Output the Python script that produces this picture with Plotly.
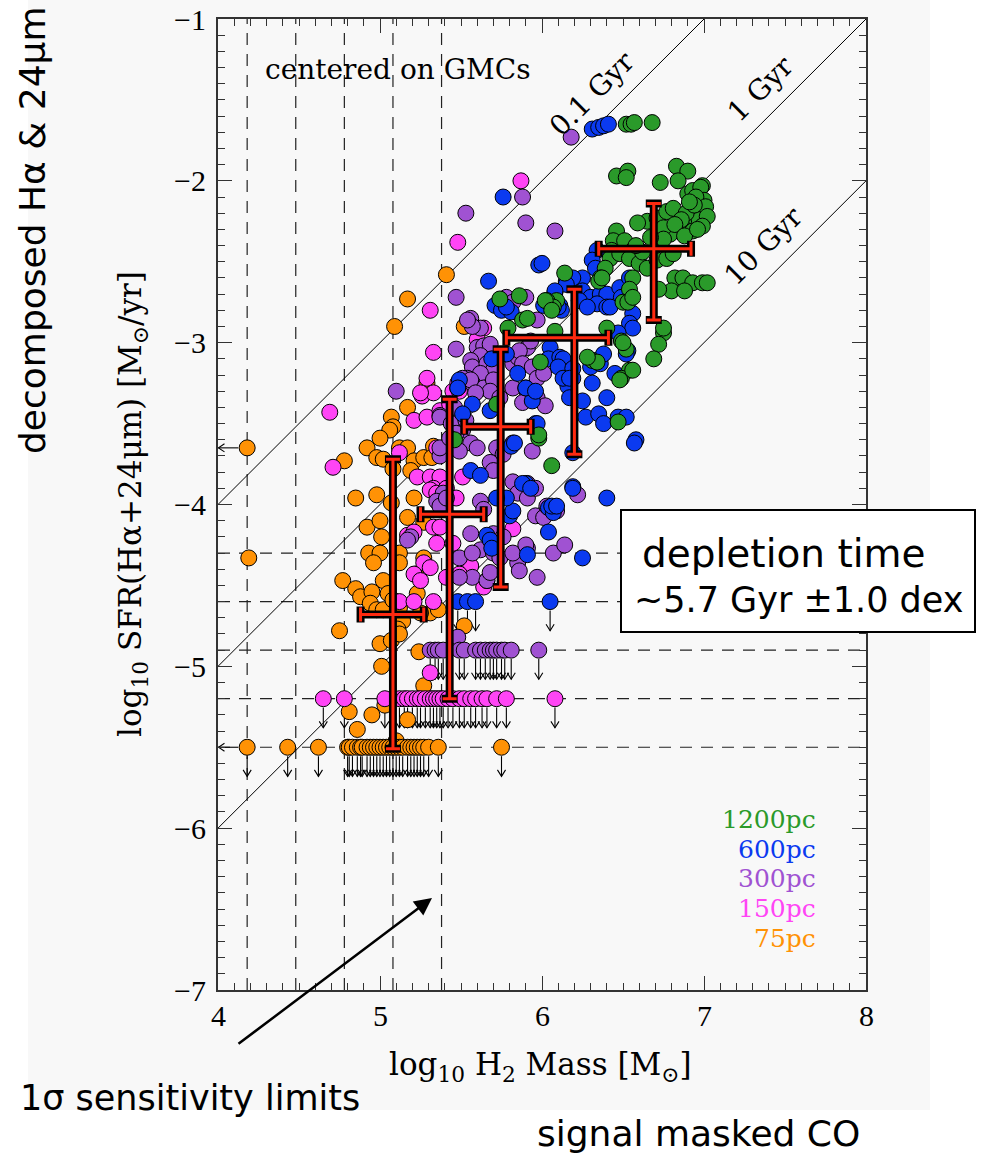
import plotly.graph_objects as go

# ---------------- data ----------------
green_pts = [(6.52,-1.65),(6.55,-1.65),(6.57,-1.64),(6.68,-1.64),
 (6.46,-1.97),(6.53,-1.94),(6.52,-1.98),
 (6.83,-1.91),(6.90,-1.94),(6.84,-2.00),(6.73,-2.01),(6.99,-2.03),
 (6.65,-2.25),(6.71,-2.23),(6.77,-2.19),(6.81,-2.17),(6.90,-2.08),(6.93,-2.06),(6.98,-2.04),(7.00,-2.12),
 (6.96,-2.19),(6.92,-2.25),(6.87,-2.29),(6.85,-2.31),(6.93,-2.31),(6.79,-2.33),(6.75,-2.29),
 (6.95,-2.10),(7.01,-2.16),(6.97,-2.24),(6.89,-2.20),(6.94,-2.15),(7.02,-2.22),(6.99,-2.28),(6.91,-2.13),
 (6.86,-2.24),(6.82,-2.27),(6.88,-2.34),(6.96,-2.30),
 (6.59,-2.26),(6.46,-2.31),(6.44,-2.37),(6.51,-2.37),(6.43,-2.43),(6.56,-2.43),(6.42,-2.48),(6.48,-2.45),
 (6.39,-2.54),(6.36,-2.60),(6.35,-2.62),
 (6.54,-2.48),(6.60,-2.51),(6.65,-2.54),(6.71,-2.49),(6.77,-2.48),(6.81,-2.45),(6.70,-2.40),(6.75,-2.36),
 (6.62,-2.44),(6.67,-2.35),(6.58,-2.40),
 (6.82,-2.60),(6.87,-2.60),(6.93,-2.63),(6.99,-2.63),(7.02,-2.63),(6.80,-2.68),(6.88,-2.68),(6.72,-2.67),
 (6.75,-2.94),(6.72,-3.01),(6.69,-3.10),
 (6.56,-2.60),(6.54,-2.67),(6.50,-2.75),(6.49,-2.99),(6.52,-3.04),(6.54,-3.17),(6.49,-3.22),(6.31,-3.11),
 (6.40,-2.91),(6.14,-2.57),(6.09,-2.74),
 (6.03,-2.74),(6.07,-2.78),(6.37,-2.60),(6.53,-2.75),(6.56,-2.72),
 (6.75,-2.91),(6.50,-3.00),(6.34,-3.12),(6.56,-3.17),(6.48,-3.23),(6.47,-3.49),(5.99,-3.12),
 (5.98,-3.59),(5.98,-3.57),(6.06,-3.76),
 (5.74,-2.73),(5.86,-2.71),(5.88,-2.86),(5.91,-2.85),(5.79,-2.91),(6.02,-2.74),(6.06,-2.80),(6.08,-2.93),
 (5.46,-3.60),(5.72,-3.38),(6.28,-3.09)]

blue_pts = [(6.31,-1.68),(6.35,-1.67),(6.38,-1.66),(6.41,-1.65),
 (5.76,-2.10),(5.98,-2.52),(5.67,-2.62),
 (5.71,-2.77),(5.75,-2.80),(5.81,-2.81),(5.78,-2.78),(6.01,-2.77),(6.05,-2.76),(6.08,-2.69),(6.11,-2.77),
 (6.12,-2.80),(6.22,-2.62),(6.15,-2.62),
 (5.69,-3.10),(5.78,-3.07),(5.85,-3.19),(5.90,-3.28),(6.05,-3.03),(6.04,-3.10),(6.11,-3.09),(6.12,-3.15),
 (6.14,-3.22),(6.19,-3.22),(6.16,-3.27),(5.49,-3.23),(5.48,-3.28),(5.94,-3.36),
 (6.34,-2.43),(6.31,-2.49),(6.33,-2.54),(6.25,-2.60),(6.19,-2.60),(6.15,-2.64),(6.08,-2.68),(6.25,-2.68),
 (6.30,-2.72),(6.36,-2.70),(6.40,-2.70),(6.34,-2.76),(6.40,-2.78),(6.48,-2.66),(6.49,-2.72),(6.54,-2.60),
 (6.56,-2.82),(6.54,-2.88),(6.42,-2.78),(6.00,-2.51),(6.10,-2.78),(6.23,-2.74),(6.28,-2.78),
 (6.56,-2.91),(6.47,-2.94),(6.53,-3.05),(6.52,-3.07),(6.13,-3.10),(6.10,-3.15),(6.19,-3.16),(6.30,-3.15),
 (6.34,-3.11),(6.36,-3.13),(6.38,-3.07),(6.13,-3.22),(6.17,-3.22),(6.31,-3.25),(6.45,-3.19),(6.40,-3.34),
 (6.17,-3.34),(6.25,-3.36),(6.27,-3.46),(6.35,-3.44),(6.38,-3.50),(6.47,-3.46),(6.52,-3.46),(6.58,-3.60),
 (6.57,-3.62),(6.19,-3.68),(6.19,-3.89),(6.40,-3.96),(5.96,-3.50),(5.90,-3.87),
 (6.25,-4.33),(6.04,-4.17),(5.91,-4.31),(6.19,-3.90),(6.04,-4.02),(6.07,-4.05),(5.80,-4.07),(5.82,-4.04),
 (5.78,-3.96),(5.66,-4.19),(5.68,-4.22),(5.56,-3.79),(5.62,-3.82),(5.57,-3.38),(5.51,-3.44),
 (5.90,-3.28),(5.96,-3.30),(5.97,-3.50),(5.68,-3.42),(5.88,-3.87),(5.93,-3.90),(5.81,-3.64),(5.83,-3.62),
 (5.69,-4.27),(6.06,-4.01),(6.09,-4.01),(5.72,-3.96)]

purple_pts = [(6.18,-1.73),(5.88,-2.10),(5.90,-2.26),(6.08,-2.31),(5.53,-2.20),(5.47,-2.72),(5.47,-3.04),(5.10,-3.30),
 (5.56,-2.85),(5.62,-2.91),(5.57,-2.90),(5.54,-2.86),(5.78,-2.72),(5.82,-2.75),(5.90,-2.72),(5.97,-2.86),
 (5.60,-3.03),(5.64,-3.02),(5.68,-3.01),(5.62,-3.08),(5.56,-3.11),(5.57,-3.15),(5.66,-3.13),(5.70,-3.17),
 (5.62,-3.19),(5.54,-3.22),(5.57,-3.25),(5.64,-3.28),(5.70,-3.23),(5.68,-3.30),(5.74,-3.34),(5.82,-3.13),
 (5.85,-3.09),(5.91,-3.03),(5.93,-2.99),(5.86,-3.05),(5.88,-3.13),(5.94,-3.15),(5.97,-3.22),(6.01,-3.19),
 (5.82,-3.28),(5.91,-3.31),(5.97,-3.34),
 (5.51,-3.22),(5.56,-3.23),(5.48,-3.28),(5.59,-3.31),
 (6.02,-3.39),(5.88,-3.37),(5.37,-3.45),(5.51,-3.54),(5.56,-3.62),(5.60,-3.65),(5.39,-3.67),(5.37,-3.70),
 (5.49,-3.67),(5.72,-3.65),(5.76,-3.69),(5.82,-3.62),(5.94,-3.67),(5.68,-3.74),(5.70,-3.79),(5.39,-3.93),
 (5.35,-3.98),(5.37,-4.01),(5.41,-3.96),(5.82,-3.86),(5.85,-3.93),(5.91,-3.96),(5.91,-3.87),(5.96,-4.07),
 (6.01,-4.08),(6.09,-4.04),(5.62,-3.98),(5.64,-4.03),(5.56,-4.18),(5.70,-4.18),(5.76,-4.20),(5.62,-4.28),
 (5.70,-4.30),(5.85,-4.36),(5.49,-4.33),(5.57,-4.30),(5.74,-4.33),(5.82,-4.30),(5.91,-4.27),(6.07,-4.30),
 (5.19,-4.20),(5.86,-4.41),(5.97,-4.45),(5.90,-4.25),(6.14,-4.25),(6.22,-3.94),(6.03,-4.01),(5.96,-3.90),
 (5.57,-4.45),(5.66,-4.47),(5.68,-4.42),(5.49,-4.45),(5.48,-4.82),(5.37,-3.46),(5.37,-3.65),(5.17,-4.22),
 (5.44,-3.50),(5.47,-3.56),(5.43,-3.59),(5.53,-3.48),(5.46,-3.40)]

magenta_pts = [(5.87,-2.00),(5.48,-2.38),(5.31,-2.80),(5.64,-2.91),(5.33,-3.06),(5.29,-3.22),(5.26,-3.33),
 (5.33,-3.31),(5.60,-2.98),(5.25,-3.31),(5.45,-3.30),(5.49,-3.30),(5.48,-3.25),
 (4.69,-3.43),(4.71,-3.77),
 (5.21,-3.48),(5.29,-3.46),(5.37,-3.42),(5.43,-3.38),(5.12,-3.68),(5.35,-3.65),(5.41,-3.67),(5.23,-3.83),
 (5.31,-3.83),(5.37,-3.83),(5.51,-3.83),(5.33,-3.90),(5.31,-3.91),(5.35,-3.93),(5.41,-3.90),(5.47,-3.96),
 (5.17,-4.19),(5.21,-4.17),(5.33,-4.14),(5.37,-4.14),(5.35,-4.24),(5.45,-4.24),(5.27,-4.36),(5.31,-4.39),
 (5.21,-4.43),(5.25,-4.47),(5.41,-4.45),(5.56,-4.38),(5.49,-4.43),(5.64,-4.51),(5.66,-4.47),(5.12,-4.60),
 (5.21,-4.60),(5.33,-4.60),(5.82,-4.15),(5.31,-5.04)]

orange_pts = [(5.41,-2.58),(5.17,-2.73),(5.09,-2.90),(5.52,-2.90),(5.29,-3.25),
 (4.18,-3.65),(4.19,-4.33),
 (5.17,-3.40),(5.07,-3.46),(5.08,-3.52),(5.06,-3.54),(5.00,-3.59),(4.92,-3.65),(4.98,-3.71),(5.02,-3.72),
 (5.12,-3.65),(5.17,-3.65),(5.21,-3.73),(5.27,-3.71),(5.33,-3.64),(5.32,-3.71),(5.19,-3.79),(5.08,-3.78),
 (4.78,-3.73),(4.85,-3.96),(4.98,-3.94),(5.21,-3.96),(5.07,-3.99),(4.92,-4.14),(5.00,-4.10),(5.17,-4.08),
 (5.27,-4.11),(5.01,-4.20),(4.93,-4.30),(5.00,-4.30),(4.96,-4.36),(5.12,-4.30),(5.12,-4.36),(5.27,-4.33),
 (5.22,-4.43),(4.77,-4.47),(4.85,-4.52),(4.88,-4.57),(4.95,-4.54),(5.02,-4.47),(5.05,-4.55),(4.94,-4.61),
 (4.98,-4.65),(5.02,-4.65),(5.08,-4.59),(5.12,-4.64),(5.23,-4.55),(5.31,-4.67),(5.36,-4.65),(5.14,-4.72),
 (5.11,-4.77),(5.00,-4.86),(4.75,-4.78),(5.25,-4.67),(5.52,-4.75),
 (5.01,-5.00),(5.07,-4.84),(5.12,-4.80),(5.24,-4.91),(5.27,-5.12),(4.81,-5.28),(4.95,-5.30),(4.86,-5.39),
 (5.03,-5.24),(5.17,-5.33),(5.10,-5.46)]

# upper limits (SFR set to the sensitivity level)
blue_limit_level = -4.6
blue_limit_mass = [5.48, 5.54, 5.59, 6.05]
purple_limit_level = -4.9
purple_limit_mass = [5.31, 5.34, 5.36, 5.39, 5.49, 5.52, 5.59, 5.62, 5.65, 5.68, 5.70, 5.72, 5.75, 5.77, 5.81, 5.98]
magenta_limit_level = -5.2
magenta_limit_mass = [4.65, 4.78, 5.03, 5.12, 5.15, 5.17, 5.20, 5.23, 5.25, 5.28, 5.31, 5.33, 5.35, 5.37,
                      5.39, 5.42, 5.45, 5.49, 5.52, 5.56, 5.59, 5.63, 5.66, 5.72, 5.78, 6.08]
orange_limit_level = -5.5
orange_limit_mass = [4.18, 4.43, 4.62, 4.80, 4.81, 4.83, 4.86, 4.88, 4.89, 4.92, 4.94, 4.96, 4.98, 5.00,
                     5.02, 5.04, 5.06, 5.08, 5.10, 5.12, 5.14, 5.17, 5.19, 5.21, 5.23, 5.25, 5.27, 5.30, 5.36, 5.75]
# mass upper limits (left arrows)
left_limit_pts = [(4.18, -3.65), (4.18, -5.5)]

# sensitivity limits
sfr_sens = [-4.3, -4.6, -4.9, -5.2, -5.5]
mass_sens = [4.18, 4.48, 4.78, 5.08, 5.38]

# depletion time lines (log10 years)
tdep_labels = ["0.1 Gyr", "1 Gyr", "10 Gyr"]
tdep_log = [8, 9, 10]

# binned medians and scatter
bin_mass = [5.08, 5.43, 5.745, 6.20, 6.69]
bin_sfr = [-4.68, -4.06, -3.52, -2.97, -2.42]
bin_mass_lo = [0.20, 0.18, 0.225, 0.42, 0.34]
bin_mass_hi = [0.19, 0.21, 0.185, 0.21, 0.23]
bin_sfr_lo = [0.83, 1.14, 0.99, 0.72, 0.44]
bin_sfr_hi = [0.96, 0.71, 0.48, 0.30, 0.28]

# axis tick values
x_ticks = [4, 5, 6, 7, 8]
y_ticks = [-1, -2, -3, -4, -5, -6, -7]

scales = ["1200pc", "600pc", "300pc", "150pc", "75pc"]
colors = {"1200pc": "#2a9a2a", "600pc": "#0b3af0", "300pc": "#a052d2", "150pc": "#ff45f5", "75pc": "#ff9205"}

# ---------------- figure ----------------
W, H = 983, 1156
L, R, T, B = 218, 866, 19, 990
XR, YR = (4, 8), (-7, -1)


def pp(px, py):
    return (px - L) / (R - L), (B - py) / (B - T)


fig = go.Figure()

# sensitivity dashed lines
hx, hy = [], []
for s in sfr_sens:
    hx += [XR[0], XR[1], None]
    hy += [s, s, None]
vx, vy = [], []
for m in mass_sens:
    vx += [m, m, None]
    vy += [YR[0], YR[1], None]
for xx, yy in ((hx, hy), (vx, vy)):
    fig.add_trace(go.Scatter(x=xx, y=yy, mode="lines", hoverinfo="skip",
                             line=dict(color="#222", width=1.2, dash="12px,9px"), showlegend=False))

# depletion time lines
for lt in tdep_log:
    x1 = min(XR[1], YR[1] + lt)
    fig.add_trace(go.Scatter(x=[XR[0], x1], y=[XR[0] - lt, x1 - lt], mode="lines",
                             line=dict(color="black", width=1), showlegend=False, hoverinfo="skip"))

# limit arrows
ax_, ay_ = [], []
alen, hw, hh, r0 = 0.18, 0.025, 0.04, 0.055
for level, masses in ((blue_limit_level, blue_limit_mass), (purple_limit_level, purple_limit_mass),
                      (magenta_limit_level, magenta_limit_mass), (orange_limit_level, orange_limit_mass)):
    for m in masses:
        ax_ += [m, m, None, m - hw, m, m + hw, None]
        ay_ += [level - r0, level - alen, None, level - alen + hh, level - alen, level - alen + hh, None]
for m, s in left_limit_pts:
    ax_ += [m - r0, XR[0] + 0.003, None, XR[0] + hh, XR[0] + 0.003, XR[0] + hh, None]
    ay_ += [s, s, None, s + hw, s, s - hw, None]
fig.add_trace(go.Scatter(x=ax_, y=ay_, mode="lines", line=dict(color="black", width=1.1),
                         showlegend=False, hoverinfo="skip"))

# points
groups = [("75pc", orange_pts, orange_limit_mass, orange_limit_level),
          ("150pc", magenta_pts, magenta_limit_mass, magenta_limit_level),
          ("300pc", purple_pts, purple_limit_mass, purple_limit_level),
          ("600pc", blue_pts, blue_limit_mass, blue_limit_level),
          ("1200pc", green_pts, [], None)]
for name, pts, lim_m, lim_l in groups:
    xs = [p[0] for p in pts] + list(lim_m)
    ys = [p[1] for p in pts] + [lim_l] * len(lim_m)
    fig.add_trace(go.Scatter(x=xs, y=ys, mode="markers", name=name, showlegend=False,
                             marker=dict(size=16, color=colors[name], line=dict(color="black", width=1))))

# binned crosses
for col, th, wd in (("black", 8, 8), ("#ff2a10", 3, 7)):
    fig.add_trace(go.Scatter(
        x=bin_mass, y=bin_sfr, mode="markers", marker=dict(size=1, color=col), showlegend=False,
        error_x=dict(type="data", symmetric=False, array=bin_mass_hi, arrayminus=bin_mass_lo,
                     color=col, thickness=th, width=wd),
        error_y=dict(type="data", symmetric=False, array=bin_sfr_hi, arrayminus=bin_sfr_lo,
                     color=col, thickness=th, width=wd)))

serif = "Liberation Serif"
dserif = "DejaVu Serif"
axis_common = dict(showgrid=False, zeroline=False, ticks="inside", mirror="allticks", showline=True,
                   linecolor="#333", linewidth=1.5, tickcolor="#333", ticklen=14, tickwidth=1,
                   dtick=1, showticklabels=False,
                   minor=dict(dtick=0.1, ticklen=7, ticks="inside", tickcolor="#333", tickwidth=1))
fig.update_xaxes(range=list(XR), tick0=4, **axis_common)
fig.update_yaxes(range=list(YR), tick0=-7, **axis_common)

shapes = []
x0, y1 = pp(28, 0)
x1, y0 = pp(930, 1110)
shapes.append(dict(type="rect", xref="paper", yref="paper", x0=x0, x1=x1, y0=y0, y1=y1,
                   fillcolor="#f8f8f8", line=dict(width=0), layer="below"))
bx0, by1 = pp(621, 510)
bx1, by0 = pp(975, 632)
shapes.append(dict(type="rect", xref="paper", yref="paper", x0=bx0, x1=bx1, y0=by0, y1=by1,
                   fillcolor="white", line=dict(color="black", width=2), layer="above"))

ann = []


def txt(px, py, text, size, family=serif, color="black", xanchor="center", angle=0):
    x, y = pp(px, py)
    ann.append(dict(xref="paper", yref="paper", x=x, y=y, text=text, showarrow=False,
                    xanchor=xanchor, yanchor="middle", textangle=angle,
                    font=dict(family=family, size=size, color=color)))


# tick labels (serif, drawn at the axis tick values)
tick_font = dict(family=serif, size=30, color="black")
_, xlab_y = pp(0, 1016)
for v in x_ticks:
    ann.append(dict(x=v, xref="x", y=xlab_y, yref="paper", text=str(v), showarrow=False,
                    xanchor="center", yanchor="middle", font=tick_font))
ylab_x, _ = pp(208, 0)
for v in y_ticks:
    ann.append(dict(x=ylab_x, xref="paper", y=v, yref="y", text="\u2212" + str(abs(v)), showarrow=False,
                    xanchor="right", yanchor="middle", font=tick_font))

txt(540, 1066, "log<sub>10</sub> H<sub>2</sub> Mass [M<sub>⊙</sub>]", 31, family=dserif)
txt(132, 504, "log<sub>10</sub> SFR(Hα+24μm) [M<sub>⊙</sub>/yr]", 31, family=dserif, angle=-90)
txt(398, 70, "centered on GMCs", 28, family=dserif)
leg_y = [820, 849, 878, 908, 938]
for nm, yy in zip(scales, leg_y):
    txt(818, yy, nm, 25, family=dserif, color=colors[nm], xanchor="right")

# depletion line labels (placed along lines)
lab_pos = [(6.31, -1.46), (7.35, -1.43), (7.37, -2.40)]
for lab, (lx, ly) in zip(tdep_labels, lab_pos):
    ann.append(dict(x=lx, y=ly, xref="x", yref="y", text=lab, showarrow=False, textangle=-45,
                    font=dict(family=dserif, size=28, color="black")))

sans = "DejaVu Sans"
txt(640, 553, "depletion time", 39, family=sans, xanchor="left")
txt(632, 600, "~5.7 Gyr ±1.0 dex", 35, family=sans, xanchor="left")
txt(33, 230, "decomposed Hα &amp; 24μm", 36, family=sans, angle=-90)
txt(18, 1098, "1σ sensitivity limits", 35, family=sans, xanchor="left")
txt(535, 1133, "signal masked CO", 36, family=sans, xanchor="left")

hx_, hy_ = pp(432, 898)
ann.append(dict(xref="paper", yref="paper", x=hx_, y=hy_, ax=237 - 432, ay=1045 - 898,
                axref="pixel", ayref="pixel", text="", showarrow=True, arrowhead=2,
                arrowsize=1.4, arrowwidth=2.5, arrowcolor="black"))

fig.update_layout(width=W, height=H, margin=dict(l=L, r=W - R, t=T, b=H - B, pad=0),
                  font=dict(family=serif, color="black"),
                  paper_bgcolor="white", plot_bgcolor="rgba(0,0,0,0)",
                  shapes=shapes, annotations=ann, showlegend=False)

fig.write_html("out.html")
